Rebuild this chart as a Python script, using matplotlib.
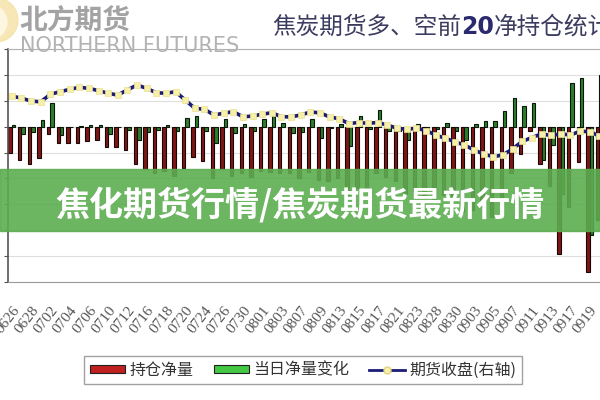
import numpy as np
import matplotlib
matplotlib.use('Agg')
import matplotlib.pyplot as plt
from matplotlib.patches import Rectangle, Patch, Ellipse
from matplotlib.lines import Line2D

plt.rcParams['font.family'] = ['Noto Sans CJK SC', 'DejaVu Sans']

# trading days (2012), labels shown every other day
dates = ['0626', '0627', '0628', '0629', '0702', '0703', '0704', '0705', '0706', '0709',
         '0710', '0711', '0712', '0713', '0716', '0717', '0718', '0719', '0720', '0723',
         '0724', '0725', '0726', '0727', '0730', '0731', '0801', '0802', '0803', '0806',
         '0807', '0808', '0809', '0810', '0813', '0814', '0815', '0816', '0817', '0820',
         '0821', '0822', '0823', '0827', '0828', '0829', '0830', '0831', '0903', '0904',
         '0905', '0906', '0907', '0910', '0911', '0912', '0913', '0914', '0917', '0918',
         '0919', '0920']
tick_labels = dates[::2]

# 持仓净量 (left axis)
net_pos = [-1.00, -1.27, -1.46, -1.20, -0.30, -0.63, -0.65, -0.63, -0.56, -0.50,
           -0.78, -0.78, -0.91, -1.46, -1.65, -1.78, -1.72, -1.90, -1.59, -1.17,
           -1.33, -1.97, -1.65, -1.90, -1.80, -1.95, -1.70, -1.75, -1.80, -1.80,
           -2.00, -1.75, -2.05, -2.10, -2.00, -2.75, -2.35, -2.45, -1.80, -1.95,
           -2.10, -2.60, -2.50, -2.70, -2.80, -2.65, -2.80, -3.30, -3.20, -3.05,
           -3.50, -2.90, -1.80, -1.05, -0.15, -1.45, -2.30, -4.90, -3.10, -1.35,
           -5.60, -3.60]

# 当日净量变化 (left axis)
net_chg = [0.05, -0.27, -0.20, 0.27, 0.90, -0.32, -0.03, 0.03, 0.08, 0.06,
           -0.28, 0.00, -0.13, -0.50, -0.20, -0.12, 0.06, -0.18, 0.33, 0.40,
           -0.16, -0.64, 0.30, -0.25, 0.10, -0.15, 0.30, 0.40, 0.15, -0.25,
           -0.20, 0.30, -0.44, -0.05, 0.10, -0.75, 0.40, -0.10, 0.65, -0.15,
           -0.15, -0.50, 0.10, -0.20, -0.10, 0.15, -0.15, -0.50, 0.10, 0.20,
           0.20, 0.59, 1.10, 0.78, 0.91, -1.27, -0.70, -2.60, 1.68, 1.87,
           -4.20, 2.00]

# 期货收盘 (right axis)
close = [2018, 2010, 1999, 1996, 2025, 2035, 2044, 2052, 2048, 2039,
         2029, 2022, 2042, 2061, 2048, 2031, 2029, 2035, 2003, 1971,
         1967, 1945, 1952, 1958, 1938, 1941, 1948, 1954, 1938, 1938,
         1945, 1957, 1953, 1938, 1930, 1912, 1916, 1913, 1916, 1906,
         1894, 1890, 1894, 1885, 1868, 1855, 1842, 1829, 1810, 1794,
         1784, 1791, 1814, 1843, 1858, 1872, 1866, 1872, 1868, 1882,
         1881, 1864]

W, H = 600, 400
fig = plt.figure(figsize=(6, 4), dpi=100)
fig.patch.set_facecolor('white')


def fx(x):
    return x / W


def fy(y):
    return 1 - y / H


# plot area measured in pixels of the reference
step = 9.63
x0, x1 = -0.4, 62.6
ax = fig.add_axes([fx(8), fy(282), (x1 - x0) * step / W, (282 - 49) / H])

idx = np.arange(len(dates))
w = 0.36
ax.bar(idx - w / 2, net_pos, w, color='#7e1616', edgecolor='#1a0505', linewidth=0.8)
ax.bar(idx + w / 2, net_chg, w, color='#2e7e2e', edgecolor='#081808', linewidth=0.8)

ax.set_xlim(x0, x1)
ax.set_ylim(-6, 3)
ax.set_yticks(range(-6, 4))
ax.set_yticklabels([])
ax.grid(axis='y', color='#dedede', linewidth=0.8)
ax.set_axisbelow(True)
ax.set_xticks(idx[::2])
ax.set_xticklabels(tick_labels, rotation=52, ha='right', rotation_mode='anchor',
                   fontsize=11, family='Liberation Serif', color='#555555')
ax.tick_params(axis='x', length=0, pad=16)
ax.tick_params(axis='y', length=3, color='#555555', direction='out')
ax.spines['left'].set_color('#555555')
ax.spines['left'].set_linewidth(1.2)
ax.spines['bottom'].set_color('#9a9a9a')
ax.spines['top'].set_color('#b0b0b0')
ax.spines['top'].set_linewidth(0.8)
ax.spines['right'].set_visible(False)

ax2 = ax.twinx()
ax2.plot(idx, close, color='#1c1c78', linewidth=2.6, marker='s', markersize=4.3,
         markerfacecolor='#f7f0a8', markeredgecolor='#ece08e', markeredgewidth=0.5)
ax2.set_ylim(1300, 2200)
ax2.set_yticks([])
for s in ax2.spines.values():
    s.set_visible(False)

# header: logo + title
fig.add_artist(Ellipse((fx(-4), fy(20)), 44 / W, 44 / H, transform=fig.transFigure,
                       color='#f6e2a4', alpha=0.8))
fig.add_artist(Ellipse((fx(-10), fy(22)), 34 / W, 34 / H, transform=fig.transFigure,
                       color='#fdf6e0'))
fig.text(fx(19), fy(22), '北方期货', fontsize=20, weight='bold', color='#a3a3a3', va='center')
fig.text(fx(20), fy(46), 'NORTHERN FUTURES', fontsize=15, color='#b3b3b3', va='center',
         family='DejaVu Sans')
t1 = fig.text(fx(272), fy(27), '焦炭期货多、空前', fontsize=17, color='#3c3c60', va='center')
t2 = ax.annotate('20', xy=(1, 0.5), xycoords=t1, va='center', ha='left', fontsize=17,
                 weight='bold', color='#2a2a6e', family='DejaVu Sans')
ax.annotate('净持仓统计', xy=(1, 0.5), xycoords=t2, va='center', ha='left', fontsize=17,
            color='#3c3c60')

# legend
handles = [Patch(facecolor='#c0201f', edgecolor='#202020', linewidth=0.8),
           Patch(facecolor='#44c844', edgecolor='#202020', linewidth=0.8),
           Line2D([], [], color='#1c1c78', linewidth=2, marker='o', markersize=5,
                  markerfacecolor='#f7f0a8', markeredgecolor='#e0d480')]
labels = ['持仓净量', '当日净量变化', '期货收盘(右轴)']
leg = fig.legend(handles, labels, loc='center', bbox_to_anchor=(fx(303), fy(370)), ncol=3,
                 fontsize=11.5, frameon=True, fancybox=False, edgecolor='#8a8a8a',
                 handlelength=2.2, handleheight=0.45, handletextpad=0.3, columnspacing=1.25,
                 borderpad=0.35)
leg.get_frame().set_linewidth(1)
for t in leg.get_texts():
    t.set_color('#333333')

# green banner over the chart
fig.add_artist(Rectangle((0, fy(231)), 1, (231 - 169) / H, transform=fig.transFigure,
                         color='#5cad50', alpha=0.9, zorder=10))
fig.text(0.5, fy(205), '焦化期货行情/焦炭期货最新行情', fontsize=24.5, weight='bold',
         color='white', ha='center', va='center', zorder=11)

fig.savefig('out.png', dpi=100)
